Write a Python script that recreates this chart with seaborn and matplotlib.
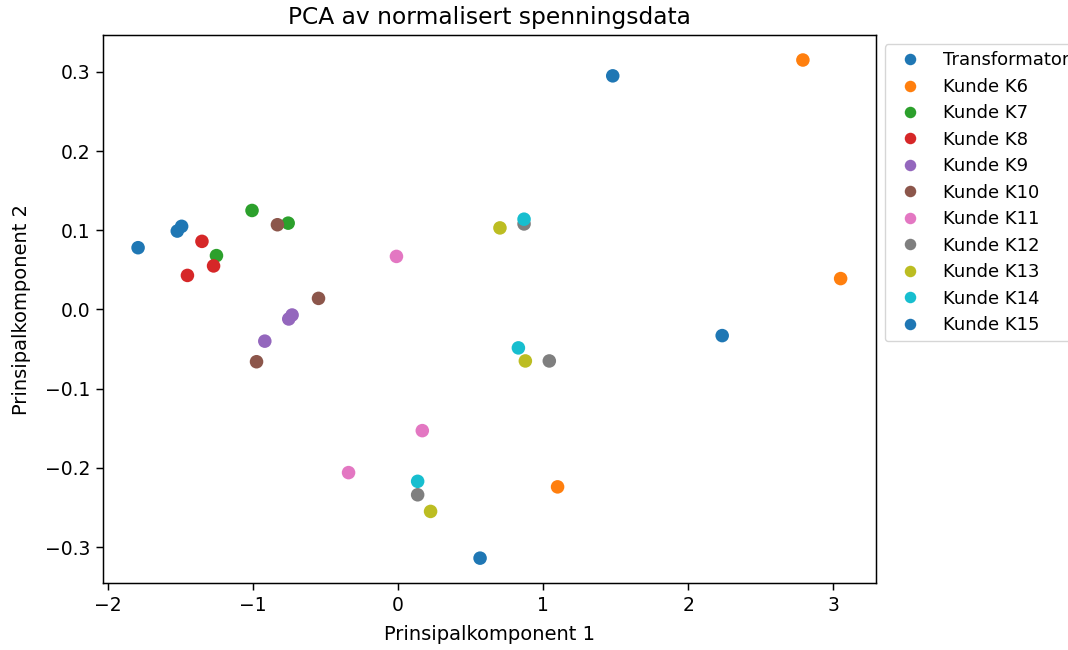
import matplotlib
matplotlib.use("Agg")
import matplotlib.pyplot as plt
import seaborn as sns
import pandas as pd

# Kategorier og PCA-koordinater
labels = ['Transformator', 'Kunde K6', 'Kunde K7', 'Kunde K8', 'Kunde K9', 'Kunde K10',
          'Kunde K11', 'Kunde K12', 'Kunde K13', 'Kunde K14', 'Kunde K15']

pc1 = {
    'Transformator': [1.48, 2.234, 0.566],
    'Kunde K6': [2.79, 3.05, 1.10],
    'Kunde K7': [-1.005, -0.756, -1.25],
    'Kunde K8': [-1.35, -1.27, -1.45],
    'Kunde K9': [-0.729, -0.752, -0.917],
    'Kunde K10': [-0.83, -0.547, -0.974],
    'Kunde K11': [-0.01, 0.168, -0.34],
    'Kunde K12': [0.869, 1.043, 0.136],
    'Kunde K13': [0.703, 0.878, 0.225],
    'Kunde K14': [0.869, 0.83, 0.136],
    'Kunde K15': [-1.79, -1.52, -1.49],
}
pc2 = {
    'Transformator': [0.295, -0.033, -0.314],
    'Kunde K6': [0.315, 0.039, -0.224],
    'Kunde K7': [0.125, 0.109, 0.068],
    'Kunde K8': [0.086, 0.055, 0.043],
    'Kunde K9': [-0.007, -0.012, -0.040],
    'Kunde K10': [0.107, 0.014, -0.066],
    'Kunde K11': [0.067, -0.153, -0.206],
    'Kunde K12': [0.108, -0.065, -0.234],
    'Kunde K13': [0.103, -0.065, -0.255],
    'Kunde K14': [0.114, -0.0485, -0.217],
    'Kunde K15': [0.078, 0.099, 0.105],
}

rows = []
for lab in labels:
    for a, b in zip(pc1[lab], pc2[lab]):
        rows.append({'PC1': a, 'PC2': b, 'Kilde': lab})
df = pd.DataFrame(rows)

# tab10 har bare 10 farger, så K15 får samme blå som Transformator
tab10 = sns.color_palette('tab10', 10)
palette = {lab: tab10[i % 10] for i, lab in enumerate(labels)}

plt.rcParams['font.family'] = ['DejaVu Sans']

fig = plt.figure(figsize=(10.68, 6.5), dpi=100)
ax = fig.add_axes([0.0964, 0.103, 0.7236, 0.843])
sns.scatterplot(data=df, x='PC1', y='PC2', hue='Kilde', hue_order=labels,
                palette=palette, s=95, linewidth=0, ax=ax)

ax.set_title('PCA av normalisert spenningsdata', fontsize=16.8, pad=8)
ax.set_xlabel('Prinsipalkomponent 1', fontsize=14, labelpad=7)
ax.set_ylabel('Prinsipalkomponent 2', fontsize=14, labelpad=10)
ax.tick_params(labelsize=13.5, length=4.7, width=1.07, pad=4.7)
for sp in ax.spines.values():
    sp.set_linewidth(1.07)
ax.legend(bbox_to_anchor=(1.0, 1.0), loc='upper left', fontsize=13,
          markerscale=0.85, labelspacing=0.47, frameon=True)

fig.savefig('out.png', dpi=100)
